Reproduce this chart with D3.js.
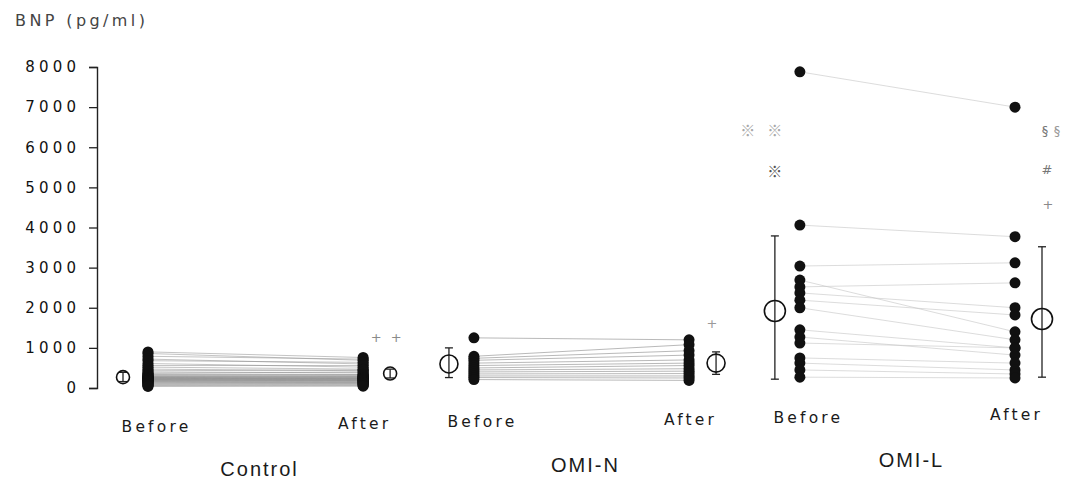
<!DOCTYPE html>
<html>
<head>
<meta charset="utf-8">
<script src="https://cdn.jsdelivr.net/npm/d3@7"></script>
<style>
  html, body { margin: 0; padding: 0; background: #fff; }
  svg { display: block; }
</style>
</head>
<body>
<svg id="chart" width="1067" height="488"></svg>
<script>
// ---------------- data ----------------
const groups = ["Control", "OMI-N", "OMI-L"];
const phases = ["Before", "After"];
const yTicks = [0, 1000, 2000, 3000, 4000, 5000, 6000, 7000, 8000];
const yLabel = "BNP (pg/ml)";

// paired individual values (pg/ml), same index = same subject
const controlBefore = [900, 860, 790, 720, 680, 610, 560, 520, 470, 430, 400, 370, 350, 330, 320, 300, 290, 280, 270, 260, 255, 245, 240, 230, 220, 215, 205, 200, 190, 180, 170, 160, 150, 135, 120, 105, 90, 70, 55, 40];
const controlAfter  = [760, 690, 720, 600, 640, 520, 560, 470, 430, 450, 380, 400, 340, 320, 330, 290, 300, 270, 280, 250, 260, 240, 230, 235, 215, 210, 200, 195, 185, 175, 170, 150, 145, 140, 120, 110, 95, 80, 60, 45];
const omiNBefore = [1250, 790, 740, 690, 620, 560, 500, 450, 400, 350, 300, 260, 210];
const omiNAfter  = [1200, 1080, 930, 820, 700, 620, 560, 480, 420, 360, 300, 250, 190];
const omiLBefore = [7880, 4060, 3040, 2690, 2520, 2370, 2190, 2000, 1450, 1270, 1120, 750, 620, 450, 270];
const omiLAfter  = [7000, 3770, 3120, 1400, 2620, 2000, 1820, 1200, 1000, 820, 1000, 620, 450, 350, 250];

// group summary (mean with error bar ends)
const meanBefore = [270, 600, 1920];
const lowBefore  = [160, 260, 220];
const highBefore = [390, 1000, 3790];
const meanAfter  = [360, 620, 1720];
const lowAfter   = [250, 340, 270];
const highAfter  = [470, 900, 3520];

// significance marks: group, side, text, height (pg/ml)
const marks = [
  { group: "Control", side: "After", text: "+", value: 1270, dx: 13, color: "#8a8a8a" },
  { group: "Control", side: "After", text: "+", value: 1270, dx: 33, color: "#8a8a8a" },
  { group: "OMI-N", side: "After", text: "+", value: 1620, dx: 23, color: "#9a9a9a" },
  { group: "OMI-L", side: "Before", text: "※", value: 6400, dx: -52, color: "#a8a8a8" },
  { group: "OMI-L", side: "Before", text: "※", value: 6400, dx: -25, color: "#a8a8a8" },
  { group: "OMI-L", side: "Before", text: "※", value: 5380, dx: -25, color: "#555" },
  { group: "OMI-L", side: "After", text: "§", value: 6430, dx: 30, color: "#777" },
  { group: "OMI-L", side: "After", text: "§", value: 6430, dx: 42, color: "#999" },
  { group: "OMI-L", side: "After", text: "#", value: 5460, dx: 32, color: "#777" },
  { group: "OMI-L", side: "After", text: "+", value: 4590, dx: 33, color: "#8a8a8a" }
];

const subjects = {
  "Control": controlBefore.map((b, i) => ({ before: b, after: controlAfter[i] })),
  "OMI-N": omiNBefore.map((b, i) => ({ before: b, after: omiNAfter[i] })),
  "OMI-L": omiLBefore.map((b, i) => ({ before: b, after: omiLAfter[i] }))
};

// ---------------- drawing ----------------
const svg = d3.select("#chart");

const y = d3.scaleLinear().domain([0, 8000]).range([388, 67]);
const xGroup = d3.scaleBand().domain(groups).range([148, 1015]).paddingInner(0.34).paddingOuter(0);
const xPhase = d3.scalePoint().domain(phases).range([0, xGroup.bandwidth()]);
const px = (g, p) => xGroup(g) + xPhase(p);

const meanOffset = { Before: -25, After: 27 };
const circleR = { "Control": 6.5, "OMI-N": 9, "OMI-L": 10.5 };
// the scanned figure is very slightly tilted: text baselines rise to the right
const tilt = x => -(x - 157) * 0.0139;

// y axis
const yAxis = d3.axisLeft(y).tickValues(yTicks).tickSize(8).tickPadding(13).tickFormat(d3.format("d"));
const ga = svg.append("g").attr("transform", "translate(97,0)").call(yAxis);
ga.select(".domain").attr("stroke", "#222").attr("stroke-width", 1.4);
ga.selectAll(".tick line").attr("stroke", "#222").attr("stroke-width", 1.3);
ga.selectAll(".tick text")
  .attr("font-family", "DejaVu Sans, sans-serif")
  .attr("font-size", 15)
  .attr("letter-spacing", 4.2)
  .attr("dx", 4.2)
  .attr("fill", "#111");

svg.append("text")
  .attr("x", 15).attr("y", 26)
  .attr("font-family", "DejaVu Sans, sans-serif")
  .attr("font-size", 16)
  .attr("letter-spacing", 3.4)
  .attr("fill", "#444")
  .text(yLabel);

groups.forEach((g, gi) => {
  const gg = svg.append("g");
  const data = subjects[g];

  // connecting lines
  gg.selectAll("line.pair").data(data).join("line")
    .attr("class", "pair")
    .attr("x1", px(g, "Before")).attr("x2", px(g, "After"))
    .attr("y1", d => y(d.before)).attr("y2", d => y(d.after))
    .attr("stroke", g === "OMI-L" ? "#c4c4c4" : "#8a8a8a")
    .attr("stroke-opacity", g === "Control" ? 0.5 : 0.6)
    .attr("stroke-width", 1);

  // dots
  phases.forEach(p => {
    gg.selectAll(null).data(data).join("circle")
      .attr("cx", px(g, p))
      .attr("cy", d => y(p === "Before" ? d.before : d.after))
      .attr("r", 5.5)
      .attr("fill", "#111");
  });

  // mean +/- error
  const summ = [
    { p: "Before", m: meanBefore[gi], lo: lowBefore[gi], hi: highBefore[gi] },
    { p: "After", m: meanAfter[gi], lo: lowAfter[gi], hi: highAfter[gi] }
  ];
  summ.forEach(s => {
    const cx = px(g, s.p) + meanOffset[s.p];
    gg.append("line").attr("x1", cx).attr("x2", cx)
      .attr("y1", y(s.lo)).attr("y2", y(s.hi))
      .attr("stroke", "#222").attr("stroke-width", 1.3);
    [s.lo, s.hi].forEach(v => {
      gg.append("line").attr("x1", cx - 4).attr("x2", cx + 4)
        .attr("y1", y(v)).attr("y2", y(v))
        .attr("stroke", "#222").attr("stroke-width", 1.3);
    });
    gg.append("circle").attr("cx", cx).attr("cy", y(s.m))
      .attr("r", circleR[g])
      .attr("fill", "none").attr("stroke", "#111").attr("stroke-width", 1.6);
  });

  // phase labels
  phases.forEach(p => {
    const lx = px(g, p) + (p === "Before" ? 7 : 0) + 1.5;
    gg.append("text")
      .attr("x", lx)
      .attr("y", 432 + tilt(lx))
      .attr("text-anchor", "middle")
      .attr("font-family", "DejaVu Sans, sans-serif")
      .attr("font-size", 15.5)
      .attr("letter-spacing", 3.2)
      .attr("fill", "#1a1a1a")
      .text(p);
  });

  // group label
  const gx = xGroup(g) + xGroup.bandwidth() / 2 + 4;
  gg.append("text")
    .attr("x", gx)
    .attr("y", 479 + tilt(gx + 110))
    .attr("text-anchor", "middle")
    .attr("font-family", "Liberation Sans, Arial, sans-serif")
    .attr("font-size", 20)
    .attr("letter-spacing", 2)
    .attr("fill", "#1a1a1a")
    .text(g);
});

// significance marks
svg.append("g").selectAll("text").data(marks).join("text")
  .attr("x", d => px(d.group, d.side) + d.dx)
  .attr("y", d => y(d.value) + 5)
  .attr("text-anchor", "middle")
  .attr("font-family", d => d.text === "※" ? "Noto Sans CJK JP, sans-serif" : "DejaVu Sans, sans-serif")
  .attr("font-size", d => d.text === "※" ? 15 : 13)
  .attr("fill", d => d.color)
  .text(d => d.text);
</script>
</body>
</html>
